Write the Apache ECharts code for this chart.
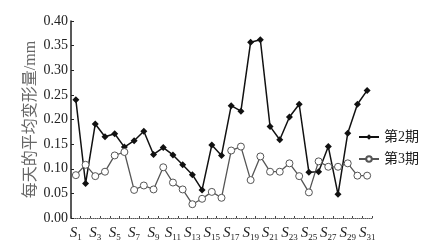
<!DOCTYPE html>
<html><head><meta charset="utf-8">
<script src="https://cdn.jsdelivr.net/npm/echarts@6/dist/echarts.min.js"></script>
<style>html,body{margin:0;padding:0;background:#fff}#c{width:433px;height:251px}</style>
</head><body><div id="c"></div>
<script>
const categories = Array.from({length:31},(_,i)=>'S'+(i+1));
const series2 = [0.240,0.070,0.191,0.165,0.171,0.144,0.157,0.176,0.129,0.143,0.128,0.108,0.088,0.057,0.148,0.127,0.228,0.217,0.357,0.362,0.186,0.159,0.205,0.231,0.093,0.094,0.145,0.048,0.172,0.231,0.259];
const series3 = [0.087,0.108,0.085,0.094,0.127,0.134,0.057,0.066,0.058,0.103,0.072,0.058,0.028,0.039,0.053,0.041,0.137,0.145,0.077,0.125,0.094,0.094,0.111,0.085,0.052,0.115,0.104,0.104,0.111,0.086,0.086];
const yTicks = {min:0, max:0.40, step:0.05};
const names = ['第2期','第3期'];
const yName = '每天的平均变形量/mm';

const chart = echarts.init(document.getElementById('c'));
chart.setOption({
  animation:false,
  backgroundColor:'#fff',
  grid:{left:71, right:61, top:21, bottom:33},
  legend:{
    orient:'vertical', left:353, top:125, itemGap:8, itemWidth:20, itemHeight:7,
    textStyle:{fontFamily:'Liberation Serif, Noto Sans CJK SC', fontSize:14, color:'#222'},
    data:names
  },
  xAxis:{
    type:'category', data:categories, boundaryGap:true,
    axisLine:{show:true, lineStyle:{color:'#555', type:'dotted', width:1}},
    axisTick:{show:true, inside:true, length:2, interval:0, lineStyle:{color:'#444'}},
    axisLabel:{
      interval:1, margin:7,
      formatter:function(v){return '{s|S}{n|'+v.slice(1)+'}';},
      rich:{
        s:{fontFamily:'Liberation Serif', fontStyle:'italic', fontSize:15, color:'#222'},
        n:{fontFamily:'Liberation Serif', fontSize:9, color:'#222', padding:[8,0,0,0]}
      }
    }
  },
  yAxis:{
    type:'value', min:yTicks.min, max:yTicks.max, interval:yTicks.step,
    name:yName, nameLocation:'middle', nameGap:32, nameRotate:90, nameMoveOverlap:false,
    nameTextStyle:{fontFamily:'Liberation Serif, Noto Sans CJK SC', fontSize:16, color:'#666'},
    axisLine:{show:true, lineStyle:{color:'#222', width:1.5}},
    axisTick:{show:true, inside:true, length:3, lineStyle:{color:'#222'}},
    splitLine:{show:false},
    axisLabel:{margin:3, fontFamily:'Liberation Serif', fontSize:14, color:'#222',
      formatter:function(v){return v.toFixed(2);}}
  },
  series:[
    {name:names[0], type:'line', data:series2, symbol:'diamond', symbolSize:7, showSymbol:true, showAllSymbol:true,
      lineStyle:{color:'#111', width:1.5}, itemStyle:{color:'#111'}},
    {name:names[1], type:'line', data:series3, symbol:'circle', symbolSize:7, showSymbol:true, showAllSymbol:true,
      lineStyle:{color:'#555', width:1.3}, itemStyle:{color:'#fff', borderColor:'#555', borderWidth:1}}
  ]
});
</script></body></html>
